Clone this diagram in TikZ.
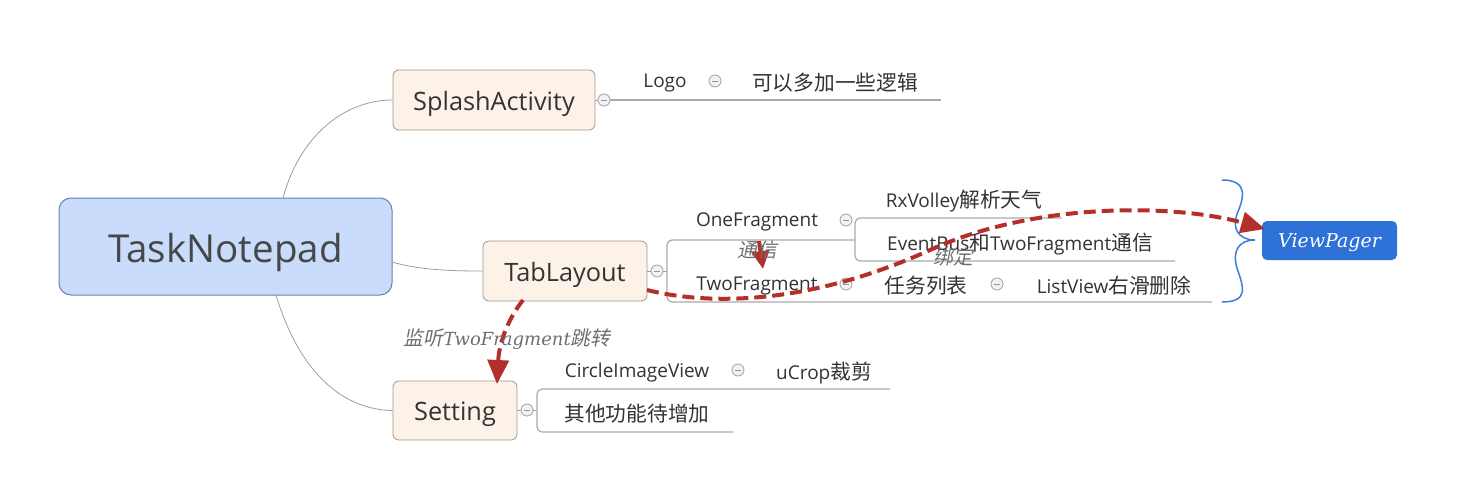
\documentclass[tikz,border=0pt]{standalone}
\usepackage{fontspec}
\setmainfont{Open Sans}
\newfontfamily\cjk{Noto Sans CJK SC}[Scale=1.09]
\newfontfamily\cjkit{Noto Sans CJK SC}[FakeSlant=0.2,Scale=1.1]
\newfontfamily\serifit{DejaVu Serif Italic}
\usetikzlibrary{arrows.meta}
\definecolor{rootfill}{HTML}{C9DCFB}
\definecolor{rootdraw}{HTML}{6A80AE}
\definecolor{topfill}{HTML}{FDF2E8}
\definecolor{topdraw}{HTML}{A39588}
\definecolor{linegray}{HTML}{9E9E9E}
\definecolor{ulgray}{HTML}{ABABAB}
\definecolor{txt}{HTML}{333333}
\definecolor{relred}{HTML}{B52F2A}
\definecolor{vpblue}{HTML}{2E72D8}
\definecolor{bracecol}{HTML}{3C7DDB}
\definecolor{labgray}{HTML}{6E6E6E}
\definecolor{collfill}{HTML}{F2F2F2}
\definecolor{colldraw}{HTML}{A0A0A0}
\definecolor{collminus}{HTML}{8A96B4}
\begin{document}
\begin{tikzpicture}[x=1pt,y=-1pt,
  rootbox/.style={draw=rootdraw, fill=rootfill, rounded corners=12pt, line width=1pt,
    minimum width=333pt, minimum height=97pt, text=txt!90, font=\fontsize{38.5}{44}\selectfont,
    text height=31.5pt, text depth=0pt},
  topicbox/.style={draw=topdraw, fill=topfill, rounded corners=6pt, line width=0.8pt,
    minimum height=60pt, text=txt, font=\fontsize{25.3}{30}\selectfont,
    text height=20pt, text depth=0pt},
  leaf/.style={inner sep=0pt, text=txt, font=\fontsize{19}{23}\selectfont},
  branch/.style={draw=linegray, line width=0.8pt},
  uline/.style={draw=ulgray, line width=1.2pt, rounded corners=5pt},
  coll/.style={circle, draw=colldraw, fill=collfill, minimum size=12pt, inner sep=0pt, line width=0.8pt,
    path picture={\draw[collminus, line width=1pt] ([xshift=-3pt]path picture bounding box.center) -- ([xshift=3pt]path picture bounding box.center);}},
  rel/.style={draw=relred, line width=4pt, dash pattern=on 12pt off 6pt,
    -{Triangle[length=24pt,width=21pt]}},
  rellabel/.style={inner sep=0pt, text=labgray, font=\fontsize{18}{22}\selectfont\serifit}
]
\useasboundingbox (0,0) rectangle (1460,479);
\fill[white] (0,0) rectangle (1460,479);

% main topics
\node[rootbox] (root) at (225.5,246.5) {TaskNotepad};
\node[topicbox, minimum width=202pt] (splash) at (494,100) {SplashActivity};
\node[topicbox, minimum width=164pt] (tab) at (565,271) {TabLayout};
\node[topicbox, minimum width=124pt, minimum height=59pt] (setting) at (455,410.5) {Setting};

% root connectors
\coordinate (rs) at (283,198);
\coordinate (rt) at (392,262);
\coordinate (rg) at (276,295);
\draw[branch] (rs) .. controls (300,135) and (345,100) .. (splash.west);
\draw[branch] (rt) .. controls (420,270) and (450,271) .. (tab.west);
\draw[branch] (rg) .. controls (300,375) and (345,410) .. (setting.west);

% ---- Splash branch
\node[coll] (cs) at (604,100) {};
\draw[branch] (splash.east) -- (cs);
\coordinate (se) at (941,100);
\draw[uline] (cs) -- (se);
\node[leaf] (logo) at (665,83) {Logo};
\node[coll] (cl) at (715,81) {};
\node[leaf] (logic) at (835,83) {\cjk 可以多加一些逻辑};

% ---- TabLayout branch
\node[coll] (ct) at (657,271) {};
\draw[branch] (tab.east) -- (ct);
\coordinate (tb1) at (667,271);
\draw[branch] (ct) -- (tb1);
\coordinate (tTop) at (855,240);
\coordinate (tBot) at (1212,302);
\draw[uline] (tTop) -- (667,240) -- (667,302) -- (tBot);
\node[leaf] (one) at (757,222) {OneFragment};
\node[coll] (co) at (846,220) {};
\coordinate (oTop) at (1062,218);
\coordinate (oBot) at (1175,261);
\draw[uline] (oTop) -- (855,218) -- (855,261) -- (oBot);
\node[leaf] (rx) at (964,201) {RxVolley{\cjk 解析天气}};
\node[leaf] (eb) at (1020,244) {EventBus{\cjk 和}TwoFragment{\cjk 通信}};
\node[leaf] (two) at (757,286) {TwoFragment};
\node[coll] (ctw) at (846,284) {};
\node[leaf] (task) at (926,286) {\cjk 任务列表};
\node[coll] (ctk) at (997,284) {};
\node[leaf] (lv) at (1114,286) {ListView{\cjk 右滑删除}};

% ---- Setting branch
\node[coll] (cg) at (527,410) {};
\draw[branch] (setting.east) -- (cg);
\coordinate (gb1) at (537,410);
\draw[branch] (cg) -- (gb1);
\coordinate (gTop) at (890,389);
\coordinate (gBot) at (733,432);
\draw[uline] (gTop) -- (537,389) -- (537,432) -- (gBot);
\node[leaf] (civ) at (637,373) {CircleImageView};
\node[coll] (cc) at (738,370) {};
\node[leaf] (ucrop) at (824,373) {uCrop{\cjk 裁剪}};
\node[leaf] (other) at (637,414) {\cjk 其他功能待增加};

% ---- ViewPager + brace
\node[fill=vpblue, rounded corners=5pt, minimum width=135pt, minimum height=39pt, inner sep=0pt,
  text=white, font=\fontsize{19}{22}\selectfont\serifit, text height=14pt, text depth=0pt] (vp) at (1329.5,240.5) {ViewPager};
\draw[bracecol, line width=1.5pt]
  (1222,180) .. controls (1250,180) and (1243,200) .. (1237,214)
  .. controls (1232,228) and (1238,240) .. (1255,240)
  .. controls (1238,240) and (1232,252) .. (1237,268)
  .. controls (1243,286) and (1250,302) .. (1222,302);

% ---- relationships
\coordinate (r1s) at (647,290);
\coordinate (r1e) at (1265,229);
\draw[rel] (r1s) .. controls (720,308) and (820,300) .. (930,250)
  .. controls (1040,200) and (1180,205) .. (r1e);
\node[rellabel] (lb1) at (953,257) {\cjkit 绑定};

\coordinate (r2s) at (759,241);
\coordinate (r2e) at (763,269);
\draw[rel, -{Triangle[length=18pt,width=17pt]}] (r2s) -- (r2e);
\node[rellabel] (lb2) at (757,250) {\cjkit 通信};

\coordinate (r3s) at (523,300);
\coordinate (r3e) at (497,384);
\draw[rel] (r3s) .. controls (506,322) and (499,345) .. (r3e);
\node[rellabel] (lb3) at (507,339) {{\cjkit 监听}TwoFragment{\cjkit 跳转}};
\end{tikzpicture}
\end{document}
